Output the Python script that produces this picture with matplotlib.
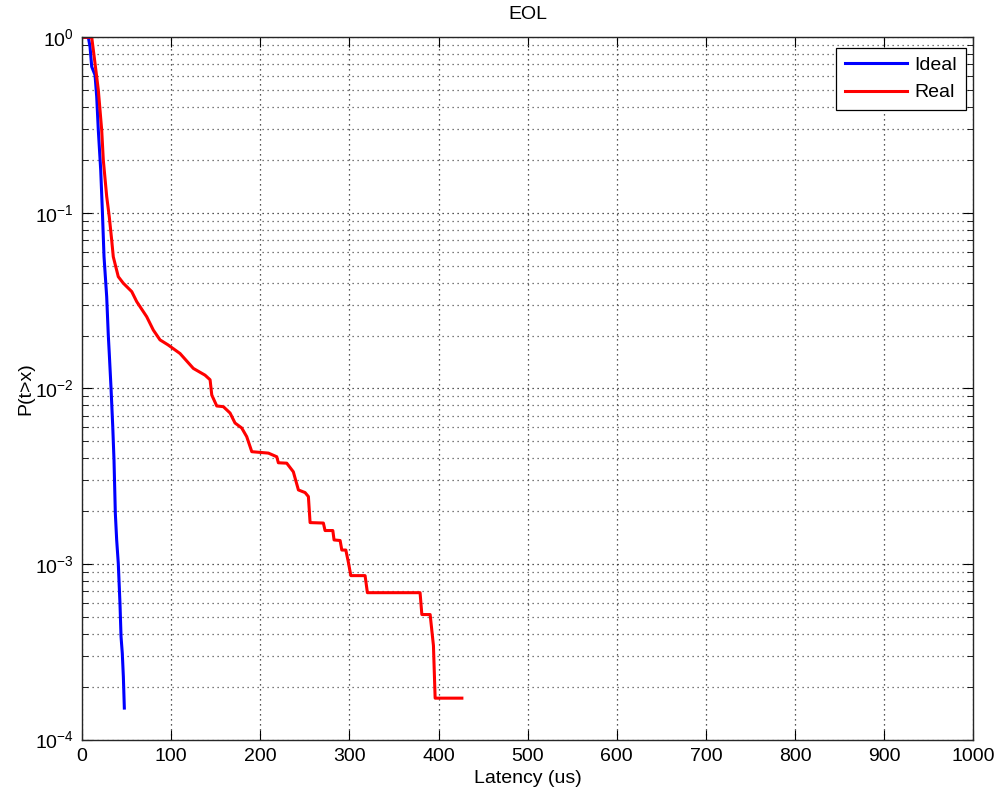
import matplotlib
matplotlib.use("Agg")
import matplotlib.pyplot as plt
from matplotlib.ticker import LogLocator, MultipleLocator, NullFormatter

plt.rcParams['font.family'] = ['Liberation Sans', 'DejaVu Sans']
plt.rcParams['mathtext.fontset'] = 'custom'
plt.rcParams['mathtext.rm'] = 'Liberation Sans'
plt.rcParams['mathtext.it'] = 'Liberation Sans:italic'
plt.rcParams['mathtext.bf'] = 'Liberation Sans:bold'

title = "EOL"
xlabel = "Latency (us)"
ylabel = "P(t>x)"
series_names = ["Ideal", "Real"]

ideal_x = [1, 7.1, 9.0, 10.9, 14.6, 16.5, 18.3, 21.0, 22.8, 24.7, 27.7, 29.5, 30.6,
           32.5, 34.5, 35.9, 37.4, 38.9, 40.7, 42.6, 43.8, 45.2, 46.4, 47.5]
ideal_y = [1.0, 1.0, 0.884, 0.68, 0.61, 0.459, 0.296, 0.175, 0.104, 0.0563, 0.0333,
           0.0201, 0.0158, 0.0102, 0.00605, 0.00391, 0.00194, 0.00137, 0.00101,
           0.000597, 0.000385, 0.00031, 0.000228, 0.000151]

real_x = [1, 10.9, 14.6, 18.3, 22.1, 23.9, 27.7, 30.6, 33.3, 35.1, 40.7, 46.4, 55.8,
          61.4, 72.6, 80.0, 87.5, 96.5, 110.0, 124.9, 138.0, 143.7, 145.6, 151.2,
          158.6, 166.1, 171.7, 179.2, 184.8, 190.5, 209.1, 218.5, 220.3, 229.7,
          237.1, 242.8, 250.3, 254.0, 255.9, 270.8, 272.7, 281.4, 282.8, 289.6,
          291.5, 296.0, 298.9, 301.6, 317.6, 320.2, 379.3, 381.3, 390.6, 394.3,
          396.2, 426.2]
real_y = [1.0, 1.0, 0.711, 0.501, 0.296, 0.200, 0.124, 0.095, 0.070, 0.0562, 0.0433,
          0.0397, 0.0356, 0.0312, 0.0256, 0.0215, 0.0189, 0.0177, 0.0158, 0.0130,
          0.0119, 0.0112, 0.00917, 0.00794, 0.00787, 0.00724, 0.00635, 0.00595,
          0.00531, 0.00436, 0.00428, 0.00408, 0.00377, 0.00375, 0.00335, 0.00264,
          0.00255, 0.00242, 0.00172, 0.00171, 0.00155, 0.00155, 0.00137, 0.00136,
          0.0012, 0.0012, 0.00102, 0.000858, 0.000858, 0.000686, 0.000686,
          0.000515, 0.000515, 0.000343, 0.000172, 0.000172]

fig = plt.figure(figsize=(10.01, 7.96), dpi=100)
ax = fig.add_axes([82/1001, 1 - 739.5/796, (973.3-82)/1001, (739.5-37.3)/796])

ax.plot(ideal_x, ideal_y, color='#0000ff', lw=2.2, label=series_names[0])
ax.plot(real_x, real_y, color='#ff0000', lw=2.2, label=series_names[1])

ax.set_yscale('log')
ax.set_xlim(0, 1000)
ax.set_ylim(1e-4, 1)
ax.xaxis.set_major_locator(MultipleLocator(100))
ax.yaxis.set_major_locator(LogLocator(base=10, numticks=10))
ax.yaxis.set_minor_locator(LogLocator(base=10, subs=range(2, 10), numticks=20))
ax.yaxis.set_minor_formatter(NullFormatter())

ax.grid(True, which='major', linestyle=(0, (1, 3)), color='#202020', lw=0.9)
ax.grid(True, which='minor', axis='y', linestyle=(0, (1, 3)), color='#505050', lw=0.9)

ax.tick_params(which='both', direction='in', top=True, right=True, labelsize=14,
               colors='black')
ax.tick_params(which='major', length=7, pad=6)
ax.tick_params(which='minor', length=4)
for s in ax.spines.values():
    s.set_color('#262626')
    s.set_linewidth(1.0)

ax.set_title(title, fontsize=14, pad=13)
ax.set_xlabel(xlabel, fontsize=14, labelpad=4)
ax.set_ylabel(ylabel, fontsize=14, labelpad=0)

leg = ax.legend(loc='upper right', bbox_to_anchor=(966/1001, 1 - 47.7/796),
                bbox_transform=fig.transFigure, borderaxespad=0,
                fontsize=14, fancybox=False, framealpha=1,
                edgecolor='black', handlelength=3.2,
                handletextpad=0.4, borderpad=0.45, labelspacing=0.5)
leg.get_frame().set_linewidth(0.9)

fig.savefig("out.png", dpi=100)
